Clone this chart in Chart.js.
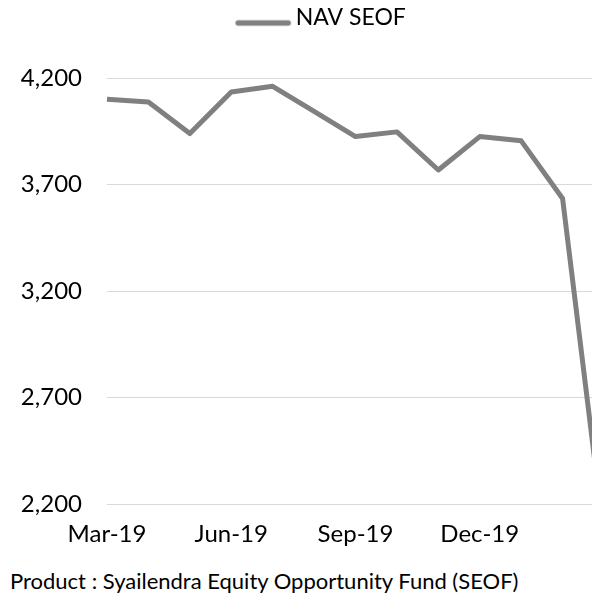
<!DOCTYPE html>
<html>
<head>
<meta charset="utf-8">
<script src="https://cdn.jsdelivr.net/npm/chart.js@4/dist/chart.umd.min.js"></script>
<style>
  html, body { margin: 0; padding: 0; background: #fff; width: 592px; height: 593px; overflow: hidden; }
  #wrap { position: absolute; left: 0; top: 0; width: 644px; height: 560px; }
  #foot { position: absolute; left: 10px; top: 570px; font: 22px Lato, sans-serif; line-height: 22px; color: #000; white-space: nowrap; }
</style>
</head>
<body>
<div id="wrap"><canvas id="c" width="644" height="560"></canvas></div>
<div id="foot">Product : Syailendra Equity Opportunity Fund (SEOF)</div>
<script>
const months = ['Mar-19','Apr-19','May-19','Jun-19','Jul-19','Aug-19','Sep-19','Oct-19','Nov-19','Dec-19','Jan-20','Feb-20','Mar-20'];
const navSEOF = [4100, 4087, 3939, 4134, 4161, 4043, 3925, 3947, 3768, 3925, 3905, 3634, 2050];
const tickLabels = ['Mar-19','Jun-19','Sep-19','Dec-19'];
const yTicks = [2200, 2700, 3200, 3700, 4200];
const seriesName = 'NAV SEOF';
const lineColor = '#808080';

// legend symbol: a thick line, drawn into a small canvas used as point style
const sym = document.createElement('canvas');
sym.width = 110; sym.height = 30;
(function(){
  const g = sym.getContext('2d');
  g.strokeStyle = lineColor; g.lineWidth = 5.5; g.lineCap = 'round';
  g.beginPath(); g.moveTo(52, 20.6); g.lineTo(102, 20.6); g.stroke();
})();

const font = { family: 'Lato, sans-serif', size: 24 };
const legendFont = { family: 'Lato, sans-serif', size: 23 };

// extra gap below the legend
const legendGap = {
  id: 'legendGap',
  afterInit(chart) {
    const lg = chart.legend;
    if (!lg) return;
    const fit = lg.fit.bind(lg);
    lg.fit = function() { fit(); this.height += 39; };
  }
};

new Chart(document.getElementById('c'), {
  type: 'line',
  data: {
    labels: months,
    datasets: [{
      label: seriesName,
      data: navSEOF,
      borderColor: lineColor,
      backgroundColor: lineColor,
      borderWidth: 5,
      pointRadius: 0,
      tension: 0,
      borderJoinStyle: 'round',
      borderCapStyle: 'butt'
    }]
  },
  plugins: [legendGap],
  options: {
    responsive: false,
    animation: false,
    devicePixelRatio: 1,
    layout: { padding: { left: 0, right: 40, top: 0, bottom: 0 } },
    plugins: {
      tooltip: { enabled: false },
      legend: {
        display: true,
        position: 'top',
        labels: {
          color: '#000',
          font: legendFont,
          usePointStyle: true,
          pointStyle: sym,
          pointStyleWidth: 86,
          boxHeight: 20,
          padding: 6,
          generateLabels: (chart) => [{
            text: seriesName, pointStyle: sym, fillStyle: lineColor,
            strokeStyle: lineColor, lineWidth: 0, hidden: false, datasetIndex: 0, fontColor: '#000'
          }]
        }
      }
    },
    scales: {
      x: {
        grid: { display: false, drawTicks: false },
        border: { display: false },
        ticks: {
          color: '#000', font: font, autoSkip: false, maxRotation: 0, minRotation: 0, padding: 16,
          callback: function(v, i) { const l = months[i]; return tickLabels.includes(l) ? l : ''; }
        },
        afterFit: (s) => { s.height = 56; }
      },
      y: {
        min: 2200, max: 4200,
        afterBuildTicks: (s) => { s.ticks = yTicks.map(v => ({ value: v })); },
        grid: { color: '#d9d9d9', lineWidth: 1, drawTicks: false },
        border: { display: false },
        ticks: {
          color: '#000', font: font, padding: 25,
          callback: (v) => v.toLocaleString('en-US')
        },
        afterFit: (s) => { s.width = 107; }
      }
    }
  }
});
</script>
</body>
</html>
